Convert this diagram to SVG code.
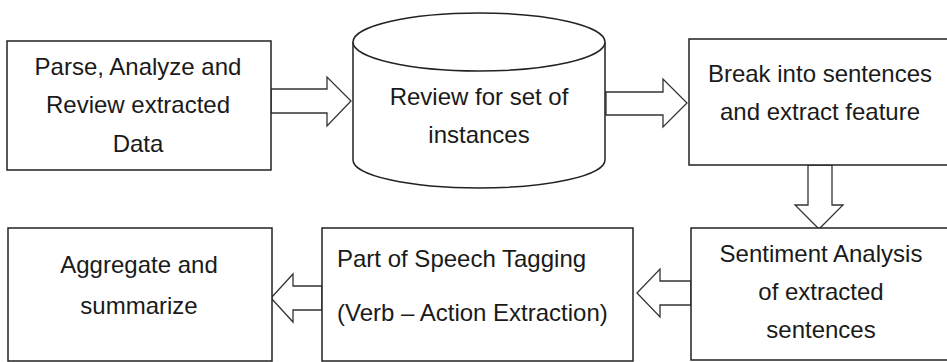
<svg xmlns="http://www.w3.org/2000/svg" width="947" height="362" viewBox="0 0 947 362">
<style>
.box{fill:#fff;stroke:#222;stroke-width:1.5}
.arr{fill:#fff;stroke:#333;stroke-width:1.3;stroke-linejoin:miter}
text{font-family:"Liberation Sans",Arial,sans-serif;font-size:24px;fill:#1a1a1a}
.c{text-anchor:middle}
</style>
<rect width="947" height="362" fill="#fff"/>
<g id="connectors">
<polygon class="arr" points="271,89 327,89 327,77 351,101 327,126 327,113 271,113"/>
<polygon class="arr" points="606,92 663,92 663,79 687,103 663,127 663,115 606,115"/>
<polygon class="arr" points="808,165 808,205 795,205 819,229 843,205 832,205 832,165"/>
<polygon class="arr" points="691,281 660,281 660,269 637,293 660,317 660,305 691,305"/>
<polygon class="arr" points="322,286 293,286 293,274 271,298 293,322 293,310 322,310"/>
</g>
<g id="parse">
<rect class="box" x="7" y="41" width="264" height="129"/>
<text class="c" x="138" y="75">Parse, Analyze and</text>
<text class="c" x="138" y="113">Review extracted</text>
<text class="c" x="138" y="152">Data</text>
</g>
<g id="review">
<path class="box" d="M353,42 L353,160 A126,28 0 0 0 605,160 L605,42"/>
<ellipse class="box" cx="479" cy="42" rx="126" ry="29"/>
<text class="c" x="479" y="105">Review for set of</text>
<text class="c" x="479" y="143">instances</text>
</g>
<g id="break">
<rect class="box" x="689" y="39" width="262" height="126"/>
<text class="c" x="820" y="82">Break into sentences</text>
<text class="c" x="820" y="120">and extract feature</text>
</g>
<g id="sentiment">
<rect class="box" x="691" y="228" width="260" height="132"/>
<text class="c" x="821" y="262">Sentiment Analysis</text>
<text class="c" x="821" y="300">of extracted</text>
<text class="c" x="821" y="338">sentences</text>
</g>
<g id="pos">
<rect class="box" x="322" y="228" width="311" height="133"/>
<text x="337" y="267">Part of Speech Tagging</text>
<text x="337" y="321">(Verb – Action Extraction)</text>
</g>
<g id="aggregate">
<rect class="box" x="8" y="228" width="264" height="133"/>
<text class="c" x="139" y="273">Aggregate and</text>
<text class="c" x="139" y="314">summarize</text>
</g>
</svg>
